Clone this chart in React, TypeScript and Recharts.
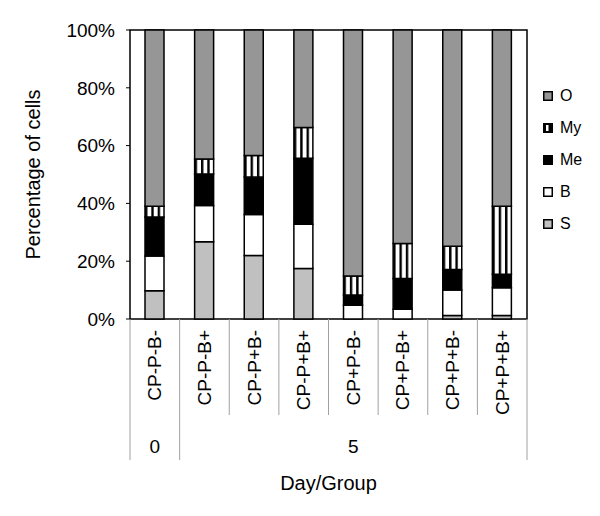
import React from "react"
import { BarChart, Bar, XAxis, YAxis, Legend, ReferenceArea, Label } from "recharts"

const FONT = '"Liberation Sans", Arial, sans-serif'

const groups = ["CP-P-B-", "CP-P-B+", "CP-P+B-", "CP-P+B+", "CP+P-B-", "CP+P-B+", "CP+P+B-", "CP+P+B+"]
const days = ["0", "5", "5", "5", "5", "5", "5", "5"]

// percentages, bottom to top
const sValues = [9.8, 26.7, 22.0, 17.5, 0, 0, 1.2, 1.2]
const bValues = [12.0, 12.6, 14.2, 15.3, 4.8, 3.4, 8.8, 9.6]
const meValues = [13.5, 10.9, 12.9, 22.8, 3.5, 10.6, 7.1, 4.7]
const myValues = [3.7, 5.2, 7.5, 10.7, 6.6, 12.1, 8.1, 23.5]
const oValues = [61.0, 44.6, 43.4, 33.7, 85.1, 73.9, 74.8, 61.0]

const yTicks = [0, 20, 40, 60, 80, 100]

const data = groups.map((g, i) => ({
  group: g,
  day: days[i],
  S: sValues[i],
  B: bValues[i],
  Me: meValues[i],
  My: myValues[i],
  O: oValues[i],
}))

const PLOT_LEFT = 130
const PLOT_RIGHT = 527
const BAND = (PLOT_RIGHT - PLOT_LEFT) / groups.length

const series = [
  { key: "S", fill: "#c0c0c0" },
  { key: "B", fill: "#ffffff" },
  { key: "Me", fill: "#000000" },
  { key: "My", fill: "url(#myStripes)" },
  { key: "O", fill: "#969696" },
]

function GroupTick(props: any) {
  const { x, y, payload } = props
  const i = payload.index
  const left = x - BAND / 2
  const right = x + BAND / 2
  const startsGroup = i === 0 || days[i] !== days[i - 1]
  const last = i === groups.length - 1

  let dayLabel = null
  if (startsGroup) {
    let end = i
    while (end + 1 < days.length && days[end + 1] === days[i]) end++
    const cx = left + ((end - i + 1) * BAND) / 2
    dayLabel = (
      <text x={cx} y={y + 127} textAnchor="middle" dominantBaseline="central" fontSize={19} fontFamily={FONT} fill="#000">
        {days[i]}
      </text>
    )
  }

  return (
    <g>
      <line x1={left} x2={left} y1={y} y2={y + (startsGroup ? 141 : 96)} stroke="#a0a0a0" strokeWidth={1} />
      {last && <line x1={right} x2={right} y1={y} y2={y + 141} stroke="#a0a0a0" strokeWidth={1} />}
      <text
        x={x}
        y={y + 11}
        transform={`rotate(-90, ${x}, ${y + 11})`}
        textAnchor="end"
        dominantBaseline="central"
        fontSize={19}
        fontFamily={FONT}
        fill="#000"
      >
        {payload.value}
      </text>
      {dayLabel}
    </g>
  )
}

// legend lists the stack top-down, like the original
const renderLegend = () => {
  const items = [...series].reverse()
  return (
    <div style={{ fontFamily: FONT, fontSize: 16, color: "#000" }}>
      {items.map((s) => (
        <div key={s.key} style={{ display: "flex", alignItems: "center", height: 32 }}>
          <svg width={10} height={10} style={{ marginRight: 7 }}>
            <rect x={0.75} y={0.75} width={8.5} height={8.5} fill={s.key === "My" ? "#000" : s.fill} stroke="#000" strokeWidth={1.5} />
            {s.key === "My" && <rect x={3} y={2} width={2.5} height={6} fill="#fff" />}
          </svg>
          <span>{s.key}</span>
        </div>
      ))}
    </div>
  )
}

export default function App() {
  return (
    <div style={{ position: "absolute", left: 0, top: 0, width: 600, height: 516, background: "#fff" }}>
      <BarChart width={600} height={516} data={data} margin={{ top: 30, right: 73, left: 0, bottom: 0 }} barSize={19}>
        <defs>
          <pattern id="myStripes" patternUnits="objectBoundingBox" width={0.3333} height={1}>
            <rect x={0} y={0} width={40} height={400} fill="#fff" />
            <rect x={0} y={0} width={2.4} height={400} fill="#000" />
          </pattern>
        </defs>
        <XAxis
          dataKey="group"
          height={197}
          interval={0}
          axisLine={false}
          tickLine={false}
          tickSize={0}
          tickMargin={0}
          tick={<GroupTick />}
        >
          <Label
            content={(p: any) => {
              const vb = p.viewBox || { x: PLOT_LEFT, y: 319, width: PLOT_RIGHT - PLOT_LEFT }
              return (
                <text x={vb.x + vb.width / 2} y={vb.y + 164} textAnchor="middle" dominantBaseline="central" fontSize={20} fontFamily={FONT} fill="#000">
                  Day/Group
                </text>
              )
            }}
          />
        </XAxis>
        <YAxis
          width={130}
          domain={[0, 100]}
          ticks={yTicks}
          tickFormatter={(v) => `${v}%`}
          axisLine={false}
          tickLine={{ stroke: "#000", strokeWidth: 1 }}
          tickSize={4}
          tickMargin={11}
          tick={{ fontSize: 19, fontFamily: FONT, fill: "#000" }}
        >
          <Label
            content={(p: any) => {
              const vb = p.viewBox || { x: 0, y: 30, height: 289 }
              const cy = vb.y + vb.height / 2
              return (
                <text x={vb.x + 33} y={cy} transform={`rotate(-90, ${vb.x + 33}, ${cy})`} textAnchor="middle" dominantBaseline="central" fontSize={20} fontFamily={FONT} fill="#000">
                  Percentage of cells
                </text>
              )
            }}
          />
        </YAxis>
        <Legend
          layout="vertical"
          align="center"
          verticalAlign="middle"
          content={renderLegend}
          wrapperStyle={{ left: 543, top: 80, width: 57 }}
        />
        {series.map((s) => (
          <Bar key={s.key} dataKey={s.key} name={s.key} stackId="a" fill={s.fill} stroke="#000" strokeWidth={1.5} isAnimationActive={false} />
        ))}
        <ReferenceArea y1={0} y2={100} fill="none" stroke="#000" strokeWidth={1.5} />
      </BarChart>
    </div>
  )
}
